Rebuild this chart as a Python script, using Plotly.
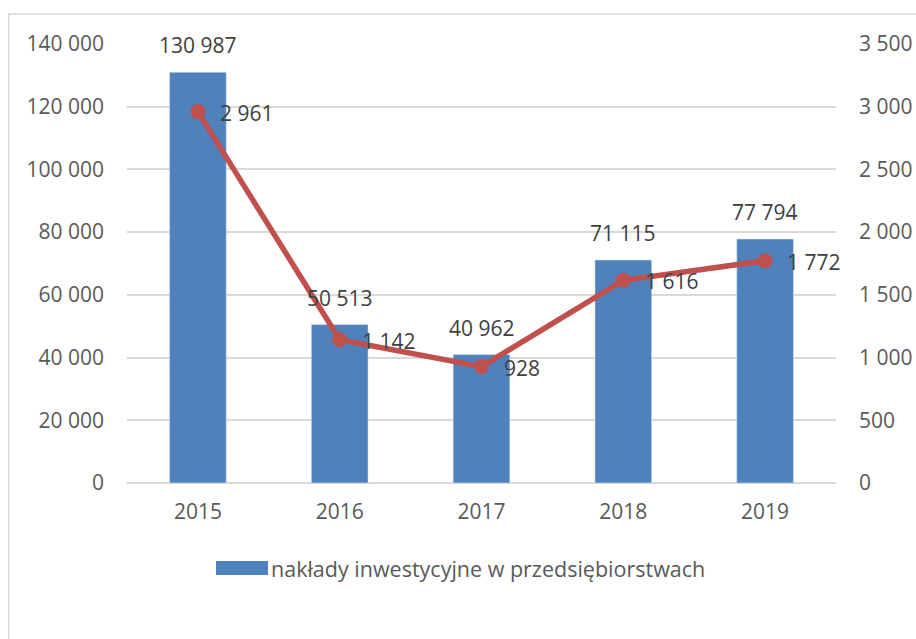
import plotly.graph_objects as go

years = ["2015", "2016", "2017", "2018", "2019"]
investment = [130987, 50513, 40962, 71115, 77794]
second_series = [2961, 1142, 928, 1616, 1772]
left_ticks = [0, 20000, 40000, 60000, 80000, 100000, 120000, 140000]
right_ticks = [0, 500, 1000, 1500, 2000, 2500, 3000, 3500]
legend_label = "nakłady inwestycyjne w przedsiębiorstwach"


def fmt(v):
    return f"{v:,}".replace(",", " ")


W, H = 916, 639
L, R, T, B = 127, 80, 44, 156
pw, ph = W - L - R, H - T - B

FONT = "Open Sans"
FS = 21
LABEL_C = "#404040"
AXIS_C = "#595959"
GRID_C = "#D9D9D9"
BAR_C = "#4F81BD"
LINE_C = "#C0504D"

fig = go.Figure()
fig.add_trace(go.Bar(
    x=years, y=investment, marker_color=BAR_C, width=0.40,
    name=legend_label, showlegend=False, hoverinfo="skip",
))
fig.add_trace(go.Scatter(
    x=years, y=second_series, yaxis="y2", mode="lines+markers",
    line=dict(color=LINE_C, width=5.5), marker=dict(color=LINE_C, size=15),
    showlegend=False, hoverinfo="skip", cliponaxis=False,
))

annotations = []
for i, v in enumerate(investment):
    annotations.append(dict(
        x=i, y=v, xref="x", yref="y", text=fmt(v), showarrow=False,
        yshift=27, font=dict(family=FONT, size=FS, color=LABEL_C),
    ))
for i, v in enumerate(second_series):
    annotations.append(dict(
        x=i, y=v, xref="x", yref="y2", text=fmt(v), showarrow=False,
        xanchor="left", yanchor="middle", xshift=20, yshift=-1,
        font=dict(family=FONT, size=FS, color=LABEL_C),
    ))


def px_x(p):
    return (p - L) / pw


def px_y(p):
    return (H - B - p) / ph


shapes = [
    dict(type="rect", xref="paper", yref="paper",
         x0=px_x(216), x1=px_x(268), y0=px_y(575), y1=px_y(561),
         fillcolor=BAR_C, line=dict(width=0)),
    dict(type="rect", xref="paper", yref="paper",
         x0=px_x(8.75), x1=px_x(W + 20), y0=px_y(H + 20), y1=px_y(14),
         fillcolor="rgba(0,0,0,0)", line=dict(color=GRID_C, width=1.5), layer="below"),
]
annotations.append(dict(
    x=px_x(269), y=px_y(568), xref="paper", yref="paper", xanchor="left", yanchor="middle",
    text=legend_label, showarrow=False, font=dict(family=FONT, size=21.5, color=AXIS_C),
))

fig.update_layout(
    width=W, height=H, margin=dict(l=L, r=R, t=T, b=B, autoexpand=False),
    paper_bgcolor="white", plot_bgcolor="white",
    font=dict(family=FONT, size=FS, color=AXIS_C),
    hovermode=False,
    xaxis=dict(type="category", range=[-0.5, 4.5], showgrid=False, showline=False, ticks="",
               tickfont=dict(size=FS, color=AXIS_C), ticklabelstandoff=14),
    yaxis=dict(range=[0, 140000], tickvals=left_ticks, ticktext=[fmt(v) for v in left_ticks],
               showgrid=True, gridcolor=GRID_C, gridwidth=2, zeroline=True,
               zerolinecolor=GRID_C, zerolinewidth=2, showline=False, ticks="",
               ticklabelstandoff=22, tickfont=dict(size=FS, color=AXIS_C)),
    yaxis2=dict(range=[0, 3500], tickvals=right_ticks, ticktext=[fmt(v) for v in right_ticks],
                overlaying="y", side="right", showgrid=False, zeroline=False,
                showline=False, ticks="", ticklabelstandoff=22,
                tickfont=dict(size=FS, color=AXIS_C)),
    shapes=shapes, annotations=annotations,
)

fig.write_html(
    "out.html",
    config={"displayModeBar": False},
    post_script="document.body.style.margin='0';document.body.style.overflow='hidden';",
)
